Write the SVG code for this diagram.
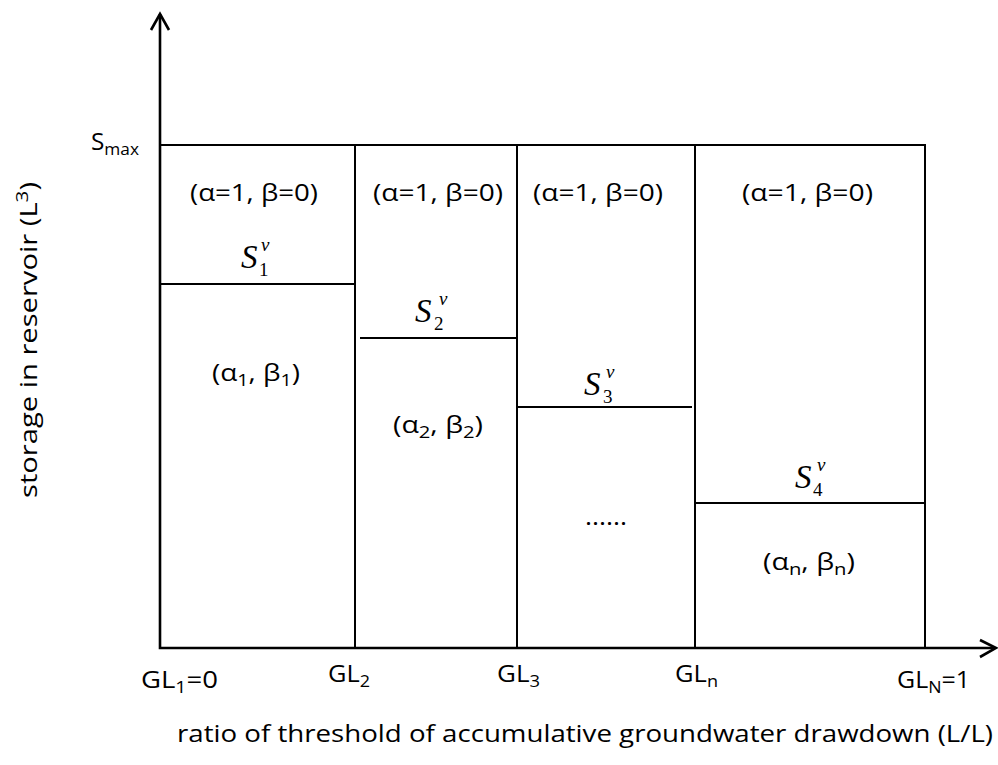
<svg xmlns="http://www.w3.org/2000/svg" width="998" height="765" viewBox="0 0 998 765">
<style>
.ln{stroke:#000;stroke-width:2;fill:none}
.ax{stroke:#000;stroke-width:2.6;fill:none}
.t{font-family:"Open Sans","Liberation Sans",sans-serif;font-size:24px;fill:#000}
.sv{font-family:"Liberation Serif","Times New Roman",serif;font-style:italic;font-size:33px;fill:#000}
.sub{font-size:17px}
.ssub{font-style:normal;font-size:19px}
.ssup{font-size:19px}
</style>
<rect width="998" height="765" fill="#fff"/>
<g id="connectors">
<path class="ax" d="M160,14 V648 H995"/>
<path class="ax" d="M151,30 L160,14 L169,30"/>
<path class="ax" d="M980,640 L996,648 L980,657"/>
</g>
<g id="grid">
<path class="ln" d="M160,145 H925 V648"/>
<path class="ln" d="M355,145 V648"/>
<path class="ln" d="M517,145 V648"/>
<path class="ln" d="M695,145 V648"/>
<path class="ln" d="M160,284 H355"/>
<path class="ln" d="M360,338 H517"/>
<path class="ln" d="M517,407 H692"/>
<path class="ln" d="M695,503 H925"/>
</g>
<g id="col1">
<text class="t" x="190" y="201" textLength="128" lengthAdjust="spacingAndGlyphs">(α=1, β=0)</text>
<text class="sv" x="241" y="268">S</text>
<text class="sv ssup" x="261" y="251">v</text>
<text class="sv ssub" x="259" y="276">1</text>
<text class="t" x="212" y="381" textLength="88" lengthAdjust="spacingAndGlyphs">(α<tspan class="sub" dy="5">1</tspan><tspan dy="-5">, β</tspan><tspan class="sub" dy="5">1</tspan><tspan dy="-5">)</tspan></text>
</g>
<g id="col2">
<text class="t" x="373" y="201" textLength="130" lengthAdjust="spacingAndGlyphs">(α=1, β=0)</text>
<text class="sv" x="415" y="322">S</text>
<text class="sv ssup" x="439" y="305">v</text>
<text class="sv ssub" x="434" y="330">2</text>
<text class="t" x="393" y="433" textLength="90" lengthAdjust="spacingAndGlyphs">(α<tspan class="sub" dy="5">2</tspan><tspan dy="-5">, β</tspan><tspan class="sub" dy="5">2</tspan><tspan dy="-5">)</tspan></text>
</g>
<g id="col3">
<text class="t" x="533" y="201" textLength="130" lengthAdjust="spacingAndGlyphs">(α=1, β=0)</text>
<text class="sv" x="584" y="395">S</text>
<text class="sv ssup" x="606" y="378">v</text>
<text class="sv ssub" x="603" y="403">3</text>
<text class="t" x="585" y="525" textLength="42" lengthAdjust="spacingAndGlyphs">......</text>
</g>
<g id="col4">
<text class="t" x="742" y="201" textLength="131" lengthAdjust="spacingAndGlyphs">(α=1, β=0)</text>
<text class="sv" x="795" y="488">S</text>
<text class="sv ssup" x="817" y="471">v</text>
<text class="sv ssub" x="813" y="496">4</text>
<text class="t" x="763" y="570" textLength="92" lengthAdjust="spacingAndGlyphs">(α<tspan class="sub" dy="5">n</tspan><tspan dy="-5">, β</tspan><tspan class="sub" dy="5">n</tspan><tspan dy="-5">)</tspan></text>
</g>
<g id="labels">
<text class="t" x="91" y="150" textLength="48" lengthAdjust="spacingAndGlyphs">S<tspan class="sub" dy="5">max</tspan></text>
<text class="t" x="141" y="688" textLength="77" lengthAdjust="spacingAndGlyphs">GL<tspan class="sub" dy="5">1</tspan><tspan dy="-5">=0</tspan></text>
<text class="t" x="328" y="682" textLength="42" lengthAdjust="spacingAndGlyphs">GL<tspan class="sub" dy="5">2</tspan></text>
<text class="t" x="497" y="682" textLength="43" lengthAdjust="spacingAndGlyphs">GL<tspan class="sub" dy="5">3</tspan></text>
<text class="t" x="675" y="682" textLength="43" lengthAdjust="spacingAndGlyphs">GL<tspan class="sub" dy="5">n</tspan></text>
<text class="t" x="897" y="688" textLength="73" lengthAdjust="spacingAndGlyphs">GL<tspan class="sub" dy="5">N</tspan><tspan dy="-5">=1</tspan></text>
<text class="t" x="177" y="742" textLength="816" lengthAdjust="spacingAndGlyphs">ratio of threshold of accumulative groundwater drawdown (L/L)</text>
<text class="t" transform="translate(37,498) rotate(-90)" textLength="316" lengthAdjust="spacingAndGlyphs">storage in reservoir (L<tspan class="sub" dy="-9">3</tspan><tspan dy="9">)</tspan></text>
</g>
</svg>
